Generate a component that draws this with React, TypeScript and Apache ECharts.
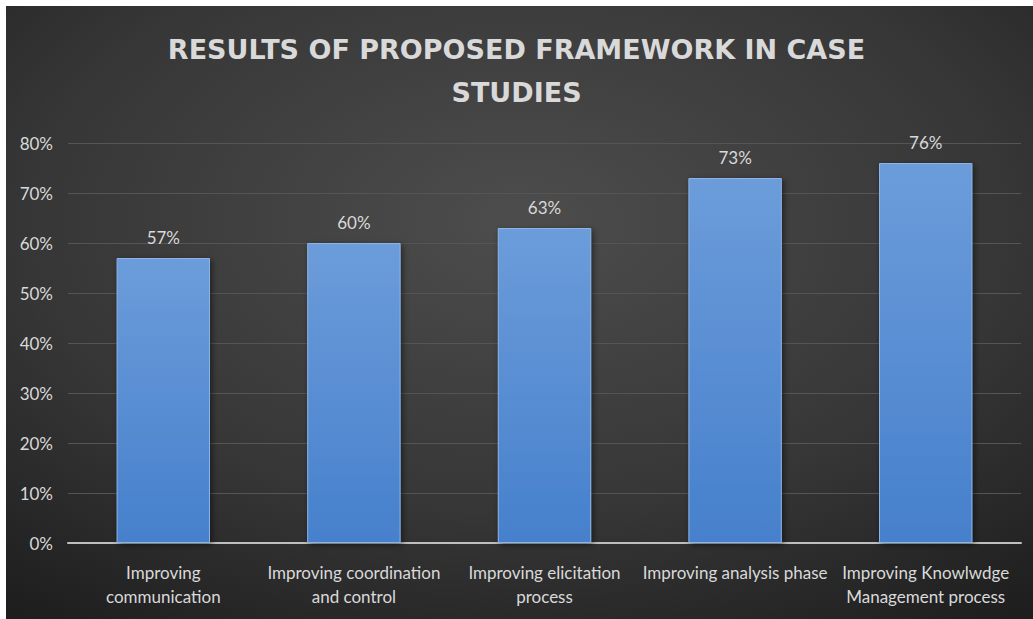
import React, { useEffect, useRef } from "react";
import * as echarts from "echarts";

const categories = [
  "Improving\ncommunication",
  "Improving coordination\nand control",
  "Improving elicitation\nprocess",
  "Improving analysis phase",
  "Improving Knowlwdge\nManagement process",
];
const values = [57, 60, 63, 73, 76];
const titleLines = ["RESULTS OF PROPOSED FRAMEWORK IN CASE", "STUDIES"];

export default function App() {
  const ref = useRef<HTMLDivElement>(null);
  useEffect(() => {
    const chart = echarts.init(ref.current!, null, { renderer: "svg" });
    chart.setOption({
      animation: false,
      backgroundColor: "#ffffff",
      graphic: [
        {
          type: "rect",
          left: 6,
          top: 6,
          shape: { width: 1027, height: 613 },
          z: -10,
          style: {
            fill: new echarts.graphic.RadialGradient(0.5, 0.35, 0.8, [
              { offset: 0, color: "#4d4d4d" },
              { offset: 0.6, color: "#363636" },
              { offset: 1, color: "#1e1e1e" },
            ]),
          },
        },
        {
          type: "text",
          left: "center",
          top: 28,
          style: {
            text: titleLines.join("\n"),
            fill: "#d9d9d9",
            fontFamily: "DejaVu Sans",
            fontWeight: "bold",
            fontSize: 27,
            lineHeight: 43,
            textAlign: "center",
          },
        },
      ],
      grid: { left: 68, right: 12, top: 143, bottom: 76, containLabel: false },
      xAxis: {
        type: "category",
        data: categories,
        axisLine: { lineStyle: { color: "#bfbfbf", width: 2 } },
        axisTick: { show: false },
        axisLabel: {
          color: "#d9d9d9",
          fontFamily: "Lato",
          fontSize: 17,
          lineHeight: 24,
          margin: 17,
          interval: 0,
        },
      },
      yAxis: {
        type: "value",
        min: 0,
        max: 80,
        interval: 10,
        axisLabel: {
          formatter: "{value}%",
          color: "#d9d9d9",
          fontFamily: "Lato",
          fontSize: 17,
          margin: 15,
        },
        splitLine: { lineStyle: { color: "#555555", width: 1 } },
        axisLine: { show: false },
        axisTick: { show: false },
      },
      series: [
        {
          type: "bar",
          data: values,
          barWidth: "49%",
          itemStyle: {
            color: new echarts.graphic.LinearGradient(0, 0, 0, 1, [
              { offset: 0, color: "#6c9cda" },
              { offset: 1, color: "#4680cc" },
            ]),
            borderColor: "#8db4e8",
            borderWidth: 1,
            shadowColor: "rgba(0,0,0,0.5)",
            shadowBlur: 6,
            shadowOffsetX: 2,
            shadowOffsetY: 2,
          },
          label: {
            show: true,
            position: "top",
            distance: 12,
            formatter: "{c}%",
            color: "#d9d9d9",
            fontFamily: "Lato",
            fontSize: 17,
          },
        },
      ],
    });
    return () => chart.dispose();
  }, []);
  return (
    <div style={{ position: "absolute", left: 0, top: 0, width: 1033, height: 619 }}>
      <div ref={ref} style={{ width: 1033, height: 619 }} />
    </div>
  );
}
